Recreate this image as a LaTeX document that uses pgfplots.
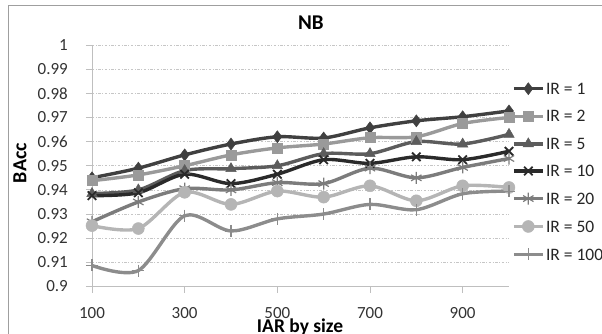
\documentclass[border=0pt]{standalone}
\usepackage{pgfplots}
\pgfplotsset{compat=1.18}
\usepackage{fontspec}
\setmainfont{Carlito}
\definecolor{cA}{HTML}{404040}
\definecolor{cB}{HTML}{9A9A9A}
\definecolor{cC}{HTML}{5C5C5C}
\definecolor{cD}{HTML}{2A2A2A}
\definecolor{cE}{HTML}{7C7C7C}
\definecolor{cF}{HTML}{B5B5B5}
\definecolor{cG}{HTML}{8C8C8C}
\definecolor{axgray}{HTML}{BFBFBF}
\begin{document}
\begin{tikzpicture}
\path[use as bounding box] (-92bp,-47.5bp) rectangle (510bp,286.5bp);
\draw[gray!75, line width=0.8bp] (-84bp,-60bp) -- (-84bp,281.5bp) -- (530bp,281.5bp);
\begin{axis}[
  at={(0,0)}, anchor=south west,
  scale only axis, width=417bp, height=241.5bp,
  xmin=100, xmax=1000, ymin=0.9, ymax=1,
  clip=false,
  axis lines*=left,
  axis line style={axgray, line width=0.8bp},
  tick align=outside,
  major tick length=6bp,
  tick style={axgray, line width=0.8bp},
  xtick={100,300,500,700,900},
  ytick={0.9,0.91,0.92,0.93,0.94,0.95,0.96,0.97,0.98,0.99,1},
  yticklabels={0.9,0.91,0.92,0.93,0.94,0.95,0.96,0.97,0.98,0.99,1},
  /pgf/number format/assume math mode=true,
  ticklabel style={font=\fontsize{17bp}{20bp}\selectfont, text=black!80, inner sep=0pt},
  yticklabel style={anchor=east, xshift=-18bp},
  xticklabel style={anchor=north, yshift=-15bp},
  ymajorgrids,
  grid style={gray!45, line width=0.7bp, dash pattern=on 2.5bp off 1.5bp on 1bp off 1.5bp},
  title={NB},
  title style={at={(axis description cs:0.525,1.068)}, anchor=center, inner sep=0pt, font=\fontsize{21bp}{24bp}\selectfont\bfseries},
  xlabel={IAR by size},
  xlabel style={at={(axis description cs:0.499,-0.1905)}, anchor=base, inner sep=0pt, font=\fontsize{19.5bp}{23bp}\selectfont\bfseries},
  ylabel={BAcc},
  ylabel style={at={(axis description cs:-0.1727,0.511)}, anchor=center, inner sep=0pt, font=\fontsize{20bp}{24bp}\selectfont\bfseries},
  every axis plot/.append style={line width=3.4bp, smooth, tension=0.5},
  legend image code/.code={\draw[mark repeat=2,mark phase=2] plot coordinates {(0bp,0bp) (14.5bp,0bp) (29bp,0bp)};},
  legend style={draw=none, fill=none, at={(axis description cs:1.007,0.476)}, anchor=west,
    inner sep=0pt, row sep=15.9bp, column sep=1.5bp,
    nodes={inner sep=0pt, text height=11.3bp, text depth=0bp, font=\fontsize{17.5bp}{20bp}\selectfont, text=black!85}},
  legend cell align=left,
]
\addplot[cA, mark=diamond*, mark size=6bp, mark options={solid, line width=0.5bp}] coordinates {
(100,0.945) (200,0.949) (300,0.9545) (400,0.959) (500,0.962) (600,0.9615) (700,0.9657) (800,0.9686) (900,0.9703) (1000,0.9727)};
\addlegendentry{IR = 1}
\addplot[cB, mark=square*, mark size=5bp, mark options={solid, line width=0.5bp}] coordinates {
(100,0.9438) (200,0.9462) (300,0.950) (400,0.9545) (500,0.9574) (600,0.959) (700,0.9616) (800,0.962) (900,0.9675) (1000,0.970)};
\addlegendentry{IR = 2}
\addplot[cC, mark=triangle*, mark size=6bp, mark options={solid, line width=0.5bp}] coordinates {
(100,0.9385) (200,0.940) (300,0.948) (400,0.9488) (500,0.950) (600,0.955) (700,0.955) (800,0.960) (900,0.959) (1000,0.963)};
\addlegendentry{IR = 5}
\addplot[cD, mark=x, mark size=6bp, mark options={solid, line width=1.8bp}] coordinates {
(100,0.9376) (200,0.9388) (300,0.9465) (400,0.9426) (500,0.9465) (600,0.9525) (700,0.951) (800,0.9537) (900,0.9525) (1000,0.956)};
\addlegendentry{IR = 10}
\addplot[cE, mark=asterisk, mark size=6bp, mark options={solid, line width=1.2bp}] coordinates {
(100,0.9268) (200,0.935) (300,0.9405) (400,0.940) (500,0.943) (600,0.9426) (700,0.949) (800,0.945) (900,0.9493) (1000,0.953)};
\addlegendentry{IR = 20}
\addplot[cF, mark=*, mark size=6bp, mark options={solid, line width=0.5bp}] coordinates {
(100,0.9252) (200,0.924) (300,0.939) (400,0.934) (500,0.9395) (600,0.937) (700,0.9417) (800,0.9355) (900,0.9417) (1000,0.941)};
\addlegendentry{IR = 50}
\addplot[cG, mark=+, mark size=6bp, mark options={solid, line width=1.2bp}] coordinates {
(100,0.9087) (200,0.9066) (300,0.9293) (400,0.923) (500,0.928) (600,0.930) (700,0.934) (800,0.9318) (900,0.9384) (1000,0.9395)};
\addlegendentry{IR = 100}
\end{axis}
\end{tikzpicture}
\end{document}
